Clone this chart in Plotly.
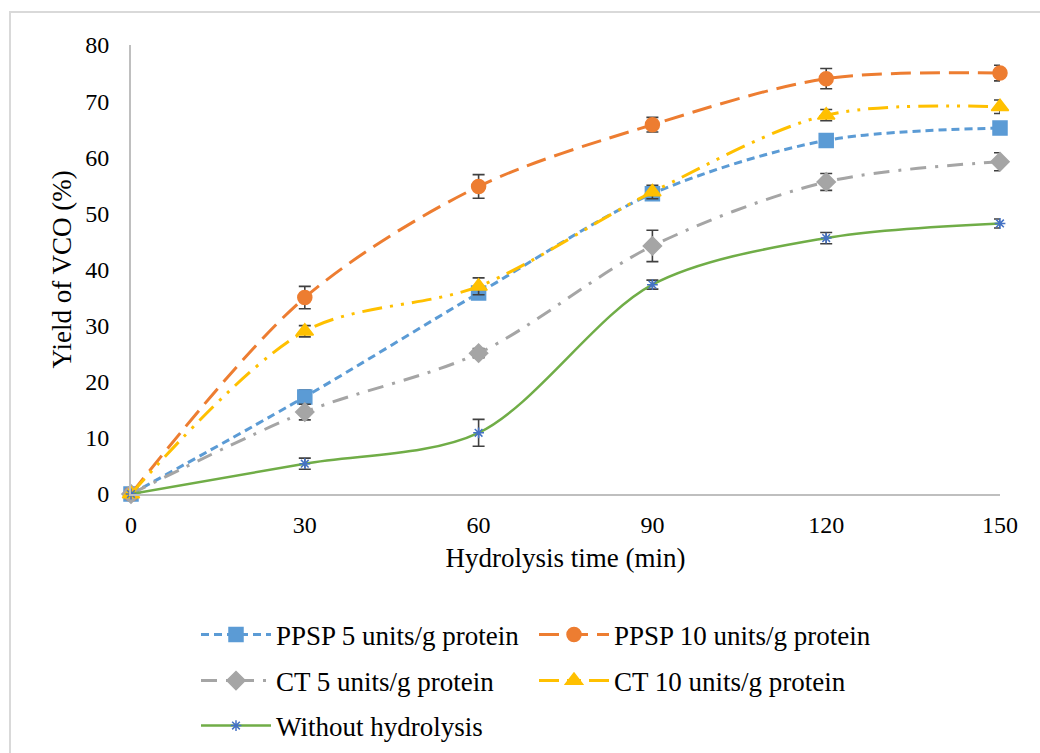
import plotly.graph_objects as go

# Hydrolysis time (min)
time_min = [0, 30, 60, 90, 120, 150]

# Yield of VCO (%) and standard deviations per treatment
ppsp5 = [0, 17.3, 35.8, 53.5, 63.0, 65.2]
ppsp5_err = [0, 1.2, 1.0, 1.0, 1.1, 1.0]

ppsp10 = [0, 35.0, 54.8, 65.8, 74.0, 75.0]
ppsp10_err = [0, 2.0, 2.1, 1.3, 1.8, 1.4]

ct5 = [0, 14.6, 25.1, 44.2, 55.6, 59.2]
ct5_err = [0, 1.4, 0.8, 2.8, 1.5, 1.6]

ct10 = [0, 29.0, 37.0, 53.8, 67.5, 69.0]
ct10_err = [0, 1.0, 1.5, 1.2, 1.0, 1.2]

no_hydro = [0, 5.4, 10.9, 37.3, 45.6, 48.2]
no_hydro_err = [0, 1.0, 2.4, 0.8, 1.0, 0.8]

x_ticks = [0, 30, 60, 90, 120, 150]
y_ticks = [0, 10, 20, 30, 40, 50, 60, 70, 80]

FONT = "Times New Roman"
TICK_SIZE = 24
LABEL_SIZE = 27
ERR_COLOR = "#404040"
FIG_W, FIG_H = 1040, 753

series = [
    dict(name="PPSP 5 units/g protein", y=ppsp5, err=ppsp5_err, color="#5B9BD5",
         dash="8px,5px", width=3, symbol="square", size=14, mcolor="#5B9BD5", legend="legend"),
    dict(name="PPSP 10 units/g protein", y=ppsp10, err=ppsp10_err, color="#ED7D31",
         dash="20px,9px", width=3, symbol="circle", size=14, mcolor="#ED7D31", legend="legend"),
    dict(name="CT 5 units/g protein", y=ct5, err=ct5_err, color="#A5A5A5",
         dash="16px,9px,3px,9px", width=3, symbol="diamond", size=14, mcolor="#A5A5A5", legend="legend2"),
    dict(name="CT 10 units/g protein", y=ct10, err=ct10_err, color="#FFC000",
         dash="20px,8px,3px,8px,3px,8px", width=3, symbol="triangle-up", size=15, mcolor="#FFC000", legend="legend2"),
    dict(name="Without hydrolysis", y=no_hydro, err=no_hydro_err, color="#70AD47",
         dash="solid", width=2.5, symbol="asterisk-open", size=9, mcolor="#4472C4", legend="legend3"),
]

fig = go.Figure()
for s in series:
    fig.add_trace(go.Scatter(
        x=time_min, y=s["y"], name=s["name"], mode="lines+markers",
        line=dict(color=s["color"], width=s["width"], dash=s["dash"], shape="spline", smoothing=0.9),
        marker=dict(symbol=s["symbol"], size=s["size"], color=s["mcolor"],
                    line=dict(color=s["mcolor"], width=1.5)),
        error_y=dict(type="data", array=s["err"], visible=True, color=ERR_COLOR,
                     thickness=1.6, width=6),
        cliponaxis=False, legend=s["legend"],
    ))

PLOT_L, PLOT_T, PLOT_W, PLOT_H = 131, 45, 869, 449


def px_x(p):
    return (p - PLOT_L) / PLOT_W


def px_y(p):
    return (PLOT_T + PLOT_H - p) / PLOT_H


def legend_row(y_center):
    # one legend per row, placed relative to the whole figure
    return dict(
        orientation="h", xref="container", yref="container",
        x=196 / FIG_W, xanchor="left", y=1 - y_center / FIG_H, yanchor="middle",
        entrywidth=253, entrywidthmode="pixels", itemwidth=70,
        font=dict(family=FONT, size=LABEL_SIZE, color="#000000"),
        bgcolor="rgba(0,0,0,0)", traceorder="normal",
    )


fig.update_layout(
    width=FIG_W, height=FIG_H,
    margin=dict(l=PLOT_L, r=FIG_W - PLOT_L - PLOT_W, t=PLOT_T, b=FIG_H - PLOT_T - PLOT_H),
    paper_bgcolor="white", plot_bgcolor="white",
    font=dict(family=FONT, size=TICK_SIZE, color="#000000"),
    showlegend=True,
    legend=legend_row(635),
    legend2=legend_row(681),
    legend3=legend_row(726),
    xaxis=dict(
        range=[0, 150], tickvals=x_ticks, ticktext=[str(v) for v in x_ticks],
        showgrid=False, zeroline=False, showline=True, linecolor="#BFBFBF", linewidth=2,
        ticks="", ticklen=0, ticklabelstandoff=8, automargin=False,
        title=dict(text="Hydrolysis time (min)", font=dict(family=FONT, size=LABEL_SIZE), standoff=11),
        tickfont=dict(family=FONT, size=TICK_SIZE),
    ),
    yaxis=dict(
        range=[0, 80], tickvals=y_ticks,
        showgrid=False, zeroline=False, showline=True, linecolor="#BFBFBF", linewidth=2,
        ticks="", ticklen=0, ticklabelstandoff=15, automargin=False,
        title=dict(text="Yield of VCO (%)", font=dict(family=FONT, size=LABEL_SIZE), standoff=6),
        tickfont=dict(family=FONT, size=TICK_SIZE),
    ),
    shapes=[dict(
        type="rect", xref="paper", yref="paper",
        x0=px_x(10), x1=px_x(1050), y0=px_y(770), y1=px_y(12),
        line=dict(color="#D9D9D9", width=2), fillcolor="rgba(0,0,0,0)", layer="below",
    )],
)

fig.write_html("out.html")
